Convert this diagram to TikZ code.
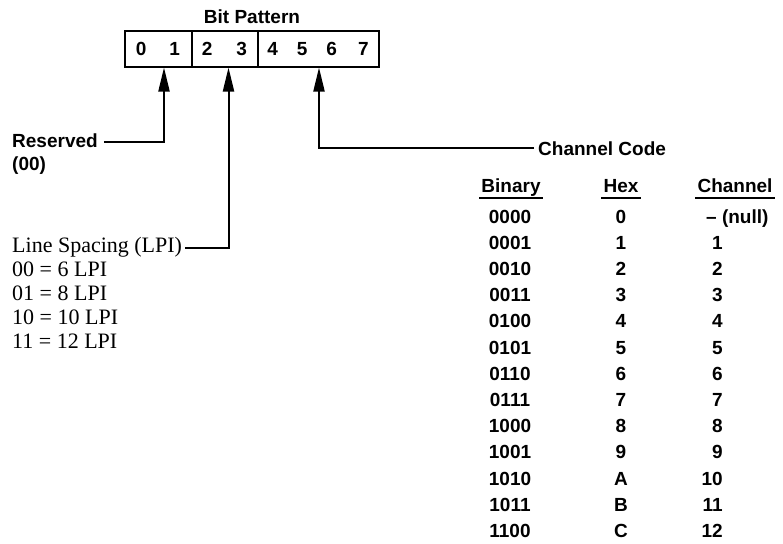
\documentclass[tikz,border=0pt]{standalone}
\usepackage{fontspec}
\setmainfont{Liberation Serif}
\setsansfont{Liberation Sans}
\usepackage{tikz}
\usetikzlibrary{arrows.meta,positioning}

\begin{document}
\begin{tikzpicture}[x=1pt, y=1pt, every node/.style={inner sep=0pt}]
    \tikzset{
        bx/.style={font=\fontsize{19}{22}\selectfont\sffamily\bfseries},
        sr/.style={font=\fontsize{22}{25}\selectfont},
        cell/.style={bx, draw, line width=2pt, minimum height=35pt},
        arr/.style={-{Triangle[length=24pt, width=11pt]}, line width=2pt},
        ul/.style={line width=1.5pt}
    }
    \useasboundingbox (0,0) rectangle (783,-543);
    % bit pattern box
    \node[cell, minimum width=67pt] (c01) at (158,-49) {0\hspace{23pt}1};
    \node[cell, minimum width=66pt, right=-2pt of c01] (c23) {2\hspace{24pt}3\hspace{4pt}};
    \node[cell, minimum width=121pt, right=-2pt of c23] (c47) {4\hspace{19pt}5\hspace{19pt}6\hspace{21pt}7\hspace{6pt}};
    \node[bx] (bitpat) at (252,-17) {Bit Pattern};
    % fields
    \node[bx, anchor=base west] (resv) at (12,-147) {Reserved};
    \node[bx, anchor=base west] (resv00) at (12,-170) {(00)};
    \node[sr, anchor=base west] (lsp) at (12,-252) {Line Spacing (LPI)};
    \foreach \t [count=\i] in {00 = 6 LPI, 01 = 8 LPI, 10 = 10 LPI, 11 = 12 LPI}
        \node[sr, anchor=base west] (lpi\i) at (12,{-252-24*\i}) {\t};
    \node[bx, anchor=base west] (chc) at (538,-155) {Channel Code};
    \draw[arr] ([xshift=6, yshift=-2]resv.east) -| ([xshift=6]c01.south);
    \draw[arr] ([xshift=3, yshift=4]lsp.base east) -| ([xshift=4]c23.south);
    \draw[arr] ([xshift=-4]chc.west) -| ([xshift=1]c47.south);
    % channel table
    \node[bx, anchor=base] (hbin) at (511,-192) {Binary};
    \node[bx, anchor=base] (hhex) at (621,-192) {Hex};
    \node[bx, anchor=base] (hch) at (735,-192) {Channel};
    \foreach \h in {hbin,hhex,hch}
        \draw[ul] ([xshift=-2, yshift=-6]\h.base west) -- ([xshift=2, yshift=-6]\h.base east);
    \node[bx, anchor=base] (bin0) at (510,-223) {0000};
    \node[bx, anchor=base] (hex0) at (621,-223) {0};
    \node[bx, anchor=base west] (ch0) at (706,-223) {-- (null)};
    \foreach \b/\h/\c [count=\i] in {0001/1/1, 0010/2/2, 0011/3/3, 0100/4/4, 0101/5/5, 0110/6/6,
            0111/7/7, 1000/8/8, 1001/9/9, 1010/A/10, 1011/B/11, 1100/C/12} {
        \node[bx, anchor=base] (bin\i) at (510,{-223-26.2*\i}) {\b};
        \node[bx, anchor=base] (hex\i) at (621,{-223-26.2*\i}) {\h};
        \node[bx, anchor=base east] (ch\i) at (723,{-223-26.2*\i}) {\c};
    }
\end{tikzpicture}
\end{document}
